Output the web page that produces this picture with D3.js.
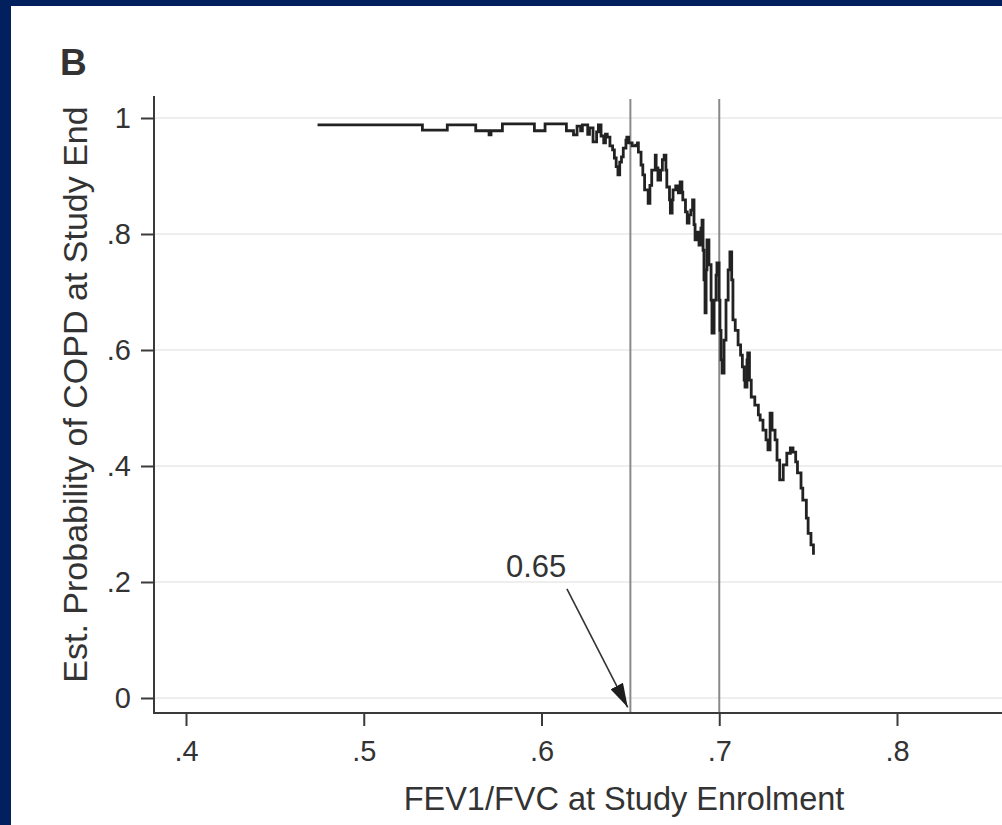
<!DOCTYPE html>
<html>
<head>
<meta charset="utf-8">
<script src="https://cdn.jsdelivr.net/npm/d3@7"></script>
<style>
  html, body { margin: 0; padding: 0; background: #021f5e; }
  svg { display: block; }
  text { font-family: "Liberation Sans", Arial, sans-serif; fill: #333; }
</style>
</head>
<body>
<svg id="chart" width="1002" height="825"></svg>
<script>
// FEV1/FVC at enrolment vs estimated probability of COPD (step curve)
const fevRatio = [
  0.474, 0.533, 0.547, 0.563, 0.5705, 0.5716, 0.578, 0.596, 0.602, 0.614,
  0.618, 0.620, 0.622, 0.623, 0.626, 0.627, 0.629, 0.631, 0.632, 0.6335,
  0.635, 0.636, 0.637, 0.6385, 0.640, 0.641, 0.642, 0.643, 0.644, 0.645,
  0.646, 0.6475, 0.648, 0.649, 0.651, 0.653, 0.654, 0.6545, 0.656, 0.657,
  0.658, 0.660, 0.661, 0.662, 0.664, 0.6645, 0.6655, 0.667, 0.668, 0.669,
  0.670, 0.6705, 0.672, 0.6725, 0.6735, 0.674, 0.6755, 0.677, 0.678, 0.679,
  0.6795, 0.681, 0.682, 0.683, 0.684, 0.685, 0.6858, 0.6864, 0.6875, 0.6886,
  0.6897, 0.6903, 0.6909, 0.6914, 0.692, 0.6926, 0.6931, 0.6942, 0.6954, 0.6959,
  0.6971, 0.6982, 0.6987, 0.6999, 0.7004, 0.701, 0.7016, 0.7027, 0.7038, 0.705,
  0.706, 0.707, 0.7077, 0.709, 0.7106, 0.712, 0.713, 0.714, 0.7145, 0.7156,
  0.716, 0.717, 0.718, 0.720, 0.722, 0.723, 0.7246, 0.7263, 0.7274, 0.7286,
  0.7297, 0.7314, 0.7325, 0.734, 0.736, 0.738, 0.740, 0.7415, 0.743, 0.744,
  0.746, 0.747, 0.749, 0.750, 0.7516, 0.753
];
const probCopd = [
  0.988, 0.979, 0.988, 0.978, 0.971, 0.978, 0.990, 0.978, 0.990, 0.978,
  0.971, 0.986, 0.978, 0.988, 0.972, 0.983, 0.959, 0.976, 0.988, 0.969,
  0.957, 0.972, 0.967, 0.952, 0.945, 0.931, 0.916, 0.902, 0.924, 0.933,
  0.948, 0.962, 0.967, 0.957, 0.952, 0.953, 0.957, 0.941, 0.919, 0.902,
  0.876, 0.853, 0.884, 0.910, 0.936, 0.914, 0.893, 0.910, 0.928, 0.936,
  0.910, 0.881, 0.859, 0.836, 0.859, 0.876, 0.883, 0.871, 0.890, 0.872,
  0.859, 0.838, 0.819, 0.833, 0.841, 0.859, 0.816, 0.790, 0.803, 0.781,
  0.810, 0.824, 0.772, 0.721, 0.664, 0.738, 0.790, 0.747, 0.686, 0.629,
  0.686, 0.729, 0.750, 0.686, 0.634, 0.583, 0.560, 0.617, 0.686, 0.738,
  0.769, 0.721, 0.652, 0.634, 0.609, 0.591, 0.571, 0.548, 0.536, 0.583,
  0.595, 0.548, 0.519, 0.505, 0.488, 0.479, 0.462, 0.445, 0.428, 0.491,
  0.462, 0.445, 0.410, 0.376, 0.402, 0.422, 0.431, 0.424, 0.407, 0.388,
  0.362, 0.341, 0.310, 0.284, 0.264, 0.247
];

const xTicks = [0.4, 0.5, 0.6, 0.7, 0.8];
const xTickLabels = [".4", ".5", ".6", ".7", ".8"];
const yTicks = [0, 0.2, 0.4, 0.6, 0.8, 1];
const yTickLabels = ["0", ".2", ".4", ".6", ".8", "1"];
const refLines = [0.65, 0.7];
const cutoffLabel = "0.65";

const svg = d3.select("#chart");

// white panel inside the navy frame
svg.append("rect")
  .attr("x", 11).attr("y", 6)
  .attr("width", 1002 - 11).attr("height", 825 - 6)
  .attr("fill", "#fff");

const x = d3.scaleLinear().domain([0.4, 0.8]).range([186, 897]);
const y = d3.scaleLinear().domain([0, 1]).range([698, 118]);

const plotLeft = 154, plotTop = 96, plotBottom = 713, plotRight = 1002;

// horizontal grid
svg.append("g")
  .selectAll("line")
  .data(yTicks)
  .join("line")
  .attr("x1", plotLeft + 1).attr("x2", plotRight)
  .attr("y1", d => y(d)).attr("y2", d => y(d))
  .attr("stroke", "#eeeeee")
  .attr("stroke-width", 2);

// reference lines
svg.append("g")
  .selectAll("line")
  .data(refLines)
  .join("line")
  .attr("x1", d => x(d)).attr("x2", d => x(d))
  .attr("y1", plotTop + 3).attr("y2", plotBottom)
  .attr("stroke", "#8a8a8a")
  .attr("stroke-width", 2);

// the curve
const line = d3.line()
  .x((d, i) => x(fevRatio[i]))
  .y(d => y(d))
  .curve(d3.curveStepAfter);

svg.append("path")
  .datum(probCopd)
  .attr("d", line)
  .attr("fill", "none")
  .attr("stroke", "#222")
  .attr("stroke-width", 2.8)
  .attr("stroke-linejoin", "miter");

// axes
const xAxis = svg.append("g")
  .attr("transform", `translate(0,${plotBottom})`)
  .call(d3.axisBottom(x).tickValues(xTicks).tickSize(13).tickPadding(14)
    .tickFormat((d, i) => xTickLabels[i]));

const yAxis = svg.append("g")
  .attr("transform", `translate(${plotLeft},0)`)
  .call(d3.axisLeft(y).tickValues(yTicks).tickSize(13).tickPadding(10)
    .tickFormat((d, i) => yTickLabels[i]));

[xAxis, yAxis].forEach(a => {
  a.select(".domain").remove();
  a.selectAll(".tick line").attr("stroke", "#3a3a3a").attr("stroke-width", 2);
  a.selectAll(".tick text")
    .attr("fill", "#333")
    .style("font-size", "29px")
    .style("font-family", "Liberation Sans, Arial, sans-serif");
});

svg.append("line")
  .attr("x1", plotLeft).attr("x2", plotLeft)
  .attr("y1", plotTop).attr("y2", plotBottom + 1)
  .attr("stroke", "#3a3a3a").attr("stroke-width", 2);
svg.append("line")
  .attr("x1", plotLeft - 1).attr("x2", plotRight)
  .attr("y1", plotBottom).attr("y2", plotBottom)
  .attr("stroke", "#3a3a3a").attr("stroke-width", 2);

// titles
svg.append("text")
  .attr("x", 60).attr("y", 75)
  .style("font-size", "37px").style("font-weight", "bold")
  .attr("fill", "#222")
  .text("B");

svg.append("text")
  .attr("transform", `translate(87,${(plotTop + plotBottom) / 2 - 10}) rotate(-90)`)
  .attr("text-anchor", "middle")
  .style("font-size", "34px")
  .text("Est. Probability of COPD at Study End");

svg.append("text")
  .attr("x", 624).attr("y", 810)
  .attr("text-anchor", "middle")
  .style("font-size", "32.5px")
  .text("FEV1/FVC at Study Enrolment");

// annotation arrow
svg.append("defs").append("marker")
  .attr("id", "arrow")
  .attr("viewBox", "0 0 24 14")
  .attr("refX", 24).attr("refY", 7)
  .attr("markerWidth", 24).attr("markerHeight", 14)
  .attr("markerUnits", "userSpaceOnUse")
  .attr("orient", "auto")
  .append("path")
  .attr("d", "M0,0 L24,7 L0,14 Z")
  .attr("fill", "#1e1e1e");

svg.append("line")
  .attr("x1", x(0.6143)).attr("y1", y(0.188))
  .attr("x2", x(0.6485)).attr("y2", y(-0.016))
  .attr("stroke", "#333")
  .attr("stroke-width", 1.6)
  .attr("marker-end", "url(#arrow)");

svg.append("text")
  .attr("x", x(0.597)).attr("y", y(0.209))
  .attr("text-anchor", "middle")
  .style("font-size", "31px")
  .text(cutoffLabel);
</script>
</body>
</html>
